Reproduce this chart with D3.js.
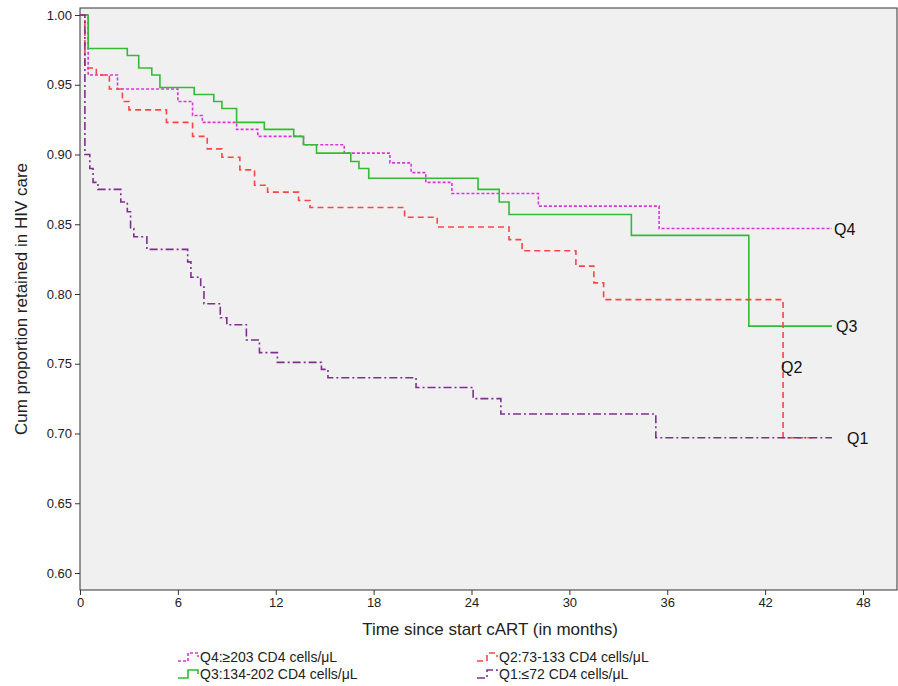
<!DOCTYPE html><html><head><meta charset="utf-8"><script src="https://cdn.jsdelivr.net/npm/d3@7"></script>
<style>body{margin:0;background:#fff}text{font-family:"Liberation Sans",Arial,sans-serif}</style></head><body><svg id="c" width="898" height="686"></svg>
<script>
const xTicks=[0,6,12,18,24,30,36,42,48];
const yTicks=[0.60,0.65,0.70,0.75,0.80,0.85,0.90,0.95,1.00];
const q4T=[0,0.5,2.3,6.0,6.9,7.5,9.6,10.9,13.7,16.2,19.0,20.3,21.2,22.8,28.1,35.5,46.1];
const q4V=[1,0.957,0.947,0.938,0.928,0.923,0.918,0.913,0.907,0.901,0.894,0.887,0.880,0.872,0.863,0.847,0.847];
const q3T=[0,0.5,2.9,3.6,4.4,4.9,7.0,8.2,8.7,9.6,11.3,13.1,13.7,14.5,16.6,17.1,17.7,24.4,25.7,26.3,33.8,41.0,46.1];
const q3V=[1,0.976,0.971,0.962,0.957,0.948,0.943,0.938,0.933,0.923,0.918,0.913,0.907,0.901,0.895,0.890,0.883,0.875,0.866,0.857,0.842,0.777,0.777];
const q2T=[0,0.3,1.0,1.8,2.6,3.0,5.3,6.9,7.8,8.7,9.8,10.7,11.5,13.4,14.1,19.9,21.9,26.3,27.1,30.4,31.5,32.1,43.1,44.9];
const q2V=[1,0.962,0.957,0.947,0.938,0.932,0.923,0.913,0.904,0.898,0.889,0.878,0.873,0.867,0.862,0.855,0.848,0.839,0.831,0.820,0.808,0.796,0.697,0.697];
const q1T=[0,0.3,0.6,0.8,1.1,2.5,2.9,3.1,3.3,4.1,6.6,6.8,7.4,7.6,8.6,9.0,10.2,11.0,12.1,14.8,15.2,20.6,24.1,25.8,35.3,46.1];
const q1V=[1,0.900,0.890,0.880,0.875,0.866,0.859,0.847,0.841,0.832,0.823,0.812,0.805,0.793,0.783,0.778,0.767,0.758,0.751,0.746,0.740,0.733,0.725,0.714,0.697,0.697];
const series=[
 {n:"Q4",t:q4T,v:q4V,c:"#dd33dd",d:"3,2",lx:834,ly:235,leg:"Q4:≥203 CD4 cells/μL",gx:178,gy:657},
 {n:"Q3",t:q3T,v:q3V,c:"#33bb33",d:null,lx:836,ly:332,leg:"Q3:134-202 CD4 cells/μL",gx:178,gy:674},
 {n:"Q2",t:q2T,v:q2V,c:"#ff4444",d:"6,4",lx:781,ly:373,leg:"Q2:73-133 CD4 cells/μL",gx:477,gy:657},
 {n:"Q1",t:q1T,v:q1V,c:"#7f2f8f",d:"8,3,2,3",lx:847,ly:444,leg:"Q1:≤72 CD4 cells/μL",gx:477,gy:674}];
const svg=d3.select("#c");
const x=d3.scaleLinear().domain([0,48]).range([80,863]);
const y=d3.scaleLinear().domain([0.6,1.0]).range([573,15]);
svg.append("rect").attr("x",80).attr("y",8).attr("width",817).attr("height",582).attr("fill","#f0f0f0").attr("stroke","#333");
const xa=svg.append("g").attr("transform","translate(0,590)").call(d3.axisBottom(x).tickValues(xTicks).tickSize(5).tickFormat(d3.format("d")));
const ya=svg.append("g").attr("transform","translate(80,0)").call(d3.axisLeft(y).tickValues(yTicks).tickSize(5).tickFormat(d3.format(".2f")));
[xa,ya].forEach(a=>{a.select(".domain").remove();a.selectAll("line").attr("stroke","#333");a.selectAll("text").attr("font-size",13).attr("fill","#222").style("font-family","Liberation Sans, Arial")});
const line=d3.line().x(d=>x(d[0])).y(d=>y(d[1])).curve(d3.curveStepAfter);
series.forEach(s=>{
 const pts=s.t.map((t,i)=>[t,s.v[i]]);
 svg.append("path").attr("d",line(pts)).attr("fill","none").attr("stroke",s.c).attr("stroke-width",1.6).attr("stroke-dasharray",s.d);
 svg.append("text").attr("x",s.lx).attr("y",s.ly).attr("font-size",16).attr("fill","#111").text(s.n);
 const g=s.gx;
 svg.append("path").attr("d",`M${g},${s.gy+4}H${g+10}V${s.gy-4}H${g+20}V${s.gy}`).attr("fill","none").attr("stroke",s.c).attr("stroke-width",1.6).attr("stroke-dasharray",s.d);
 svg.append("text").attr("x",g+22).attr("y",s.gy+5).attr("font-size",14).attr("fill","#222").text(s.leg);
});
svg.append("text").attr("x",490).attr("y",635).attr("text-anchor","middle").attr("font-size",17).attr("fill","#222").text("Time since start cART (in months)");
svg.append("text").attr("transform","translate(27,299) rotate(-90)").attr("text-anchor","middle").attr("font-size",17).attr("fill","#222").text("Cum proportion retained in HIV care");
</script></body></html>
